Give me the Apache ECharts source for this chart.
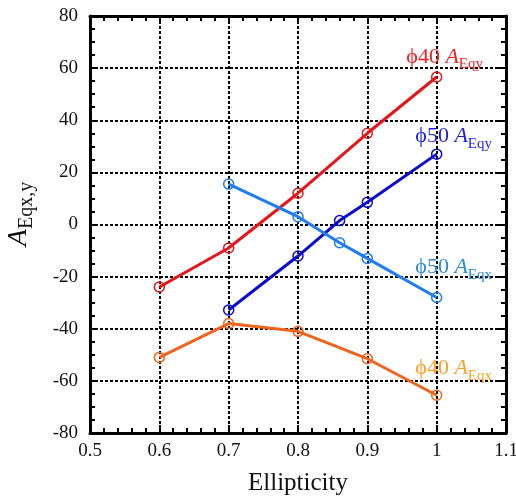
<!DOCTYPE html>
<html>
<head>
<meta charset="utf-8">
<script src="https://cdn.jsdelivr.net/npm/echarts@6/dist/echarts.min.js"></script>
<style>html,body{margin:0;padding:0;background:#fff}#c{width:516px;height:496px}</style>
</head>
<body>
<div id="c"></div>
<script>
// ---- data ----
var xRed = [0.6, 0.7, 0.8, 0.9, 1.0];
var yRed = [-24, -9, 12, 35, 56.6];          // phi40 A_Eqy
var xBlue = [0.7, 0.8, 0.86, 0.9, 1.0];
var yBlue = [-32.8, -12.1, 1.5, 8.5, 27];    // phi50 A_Eqy
var xLight = [0.7, 0.8, 0.86, 0.9, 1.0];
var yLight = [15.5, 3, -7, -13, -28];        // phi50 A_Eqx
var xOrange = [0.6, 0.7, 0.8, 0.9, 1.0];
var yOrange = [-51, -38, -41, -51.5, -65.5]; // phi40 A_Eqx
var seriesNames = ['ϕ40 A_Eqy', 'ϕ50 A_Eqy', 'ϕ50 A_Eqx', 'ϕ40 A_Eqx'];
var labelParts = [['ϕ40 ', 'A', 'Eqy'], ['ϕ50 ', 'A', 'Eqy'], ['ϕ50 ', 'A', 'Eqx'], ['ϕ40 ', 'A', 'Eqx']];
var xTitle = 'Ellipticity';
var yTitleParts = ['A', 'Eqx,y'];

var FONT = '"Liberation Serif", "DejaVu Serif", serif';
var chart = echarts.init(document.getElementById('c'), null, {renderer: 'canvas'});

function mkSeries(idx, xs, ys, lineColor, labelColor, offset) {
  var p = labelParts[idx];
  var data = xs.map(function (x, i) {
    var d = {value: [x, ys[i]]};
    if (i === xs.length - 1) {
      d.label = {
        show: true,
        position: 'inside',
        offset: offset,
        formatter: '{m|' + p[0] + '}{a|' + p[1] + '}{s|' + p[2] + '}',
        rich: {
          m: {fontFamily: FONT, fontSize: 22, color: labelColor, lineHeight: 30, verticalAlign: 'middle'},
          a: {fontFamily: FONT, fontSize: 22, fontStyle: 'italic', color: labelColor, lineHeight: 30, verticalAlign: 'middle'},
          s: {fontFamily: FONT, fontSize: 15, color: labelColor, lineHeight: 15, verticalAlign: 'bottom'}
        }
      };
    }
    return d;
  });
  return {
    name: seriesNames[idx],
    type: 'line',
    data: data,
    symbol: 'circle',
    symbolSize: 10,
    showAllSymbol: true,
    lineStyle: {color: lineColor, width: 3},
    itemStyle: {color: 'rgba(0,0,0,0)', borderColor: lineColor, borderWidth: 1.5},
    emphasis: {disabled: true},
    z: 3
  };
}

var tickBase = {
  axisLine: {show: true, onZero: false, lineStyle: {color: '#000', width: 3}},
  axisTick: {show: true, inside: true, length: 8, lineStyle: {color: '#000', width: 2}}
};

var option = {
  animation: false,
  backgroundColor: '#fff',
  grid: {left: 90, right: 10, top: 16, bottom: 63, containLabel: false, outerBoundsMode: 'none'},
  xAxis: [
    Object.assign({
      type: 'value', min: 0.5, max: 1.1, interval: 0.1, position: 'bottom',
      axisLabel: {fontFamily: FONT, fontSize: 19, color: '#111', margin: 9, hideOverlap: false,
        formatter: function (v) { return String(Math.round(v * 10) / 10); }},
      splitLine: {show: true, lineStyle: {color: '#000', width: 2, type: [3, 2]}},
      minorSplitLine: {show: false},
      name: xTitle, nameLocation: 'middle', nameGap: 38,
      nameTextStyle: {fontFamily: FONT, fontSize: 25, color: '#111'}
    }, tickBase, {minorTick: {show: true, splitNumber: 5, length: 5, lineStyle: {color: '#000', width: 2}}}),
    Object.assign({
      type: 'value', min: 0.5, max: 1.1, interval: 0.1, position: 'top',
      axisLabel: {show: false}, splitLine: {show: false}
    }, tickBase, {minorTick: {show: true, splitNumber: 5, length: 5, lineStyle: {color: '#000', width: 2}}})
  ],
  yAxis: [
    Object.assign({
      type: 'value', min: -80, max: 80, interval: 20, position: 'left',
      axisLabel: {fontFamily: FONT, fontSize: 19, color: '#111', margin: 12},
      splitLine: {show: true, lineStyle: {color: '#000', width: 2, type: [3, 2]}}
    }, tickBase, {minorTick: {show: true, splitNumber: 4, length: 5, lineStyle: {color: '#000', width: 2}}}),
    Object.assign({
      type: 'value', min: -80, max: 80, interval: 20, position: 'right',
      axisLabel: {show: false}, splitLine: {show: false}
    }, tickBase, {minorTick: {show: true, splitNumber: 4, length: 5, lineStyle: {color: '#000', width: 2}}})
  ],
  graphic: [{
    type: 'text',
    x: 19, y: 214,
    rotation: Math.PI / 2,
    style: {
      text: '{a|' + yTitleParts[0] + '}{s|' + yTitleParts[1] + '}',
      align: 'center', verticalAlign: 'middle',
      rich: {
        a: {fontFamily: FONT, fontSize: 28, fontStyle: 'italic', fill: '#111', lineHeight: 36, verticalAlign: 'middle'},
        s: {fontFamily: FONT, fontSize: 20, fill: '#111', lineHeight: 20, verticalAlign: 'bottom'}
      }
    },
    z: 10
  }],
  series: [
    mkSeries(0, xRed, yRed, '#e8141a', '#ff1e1e', [8, -20]),
    mkSeries(1, xBlue, yBlue, '#0a0ad2', '#1e1ee6', [17, -18]),
    mkSeries(2, xLight, yLight, '#1e7cf5', '#2a8ae0', [17, -30]),
    mkSeries(3, xOrange, yOrange, '#f0641e', '#ffa028', [17, -27])
  ]
};
chart.setOption(option);
</script>
</body>
</html>
